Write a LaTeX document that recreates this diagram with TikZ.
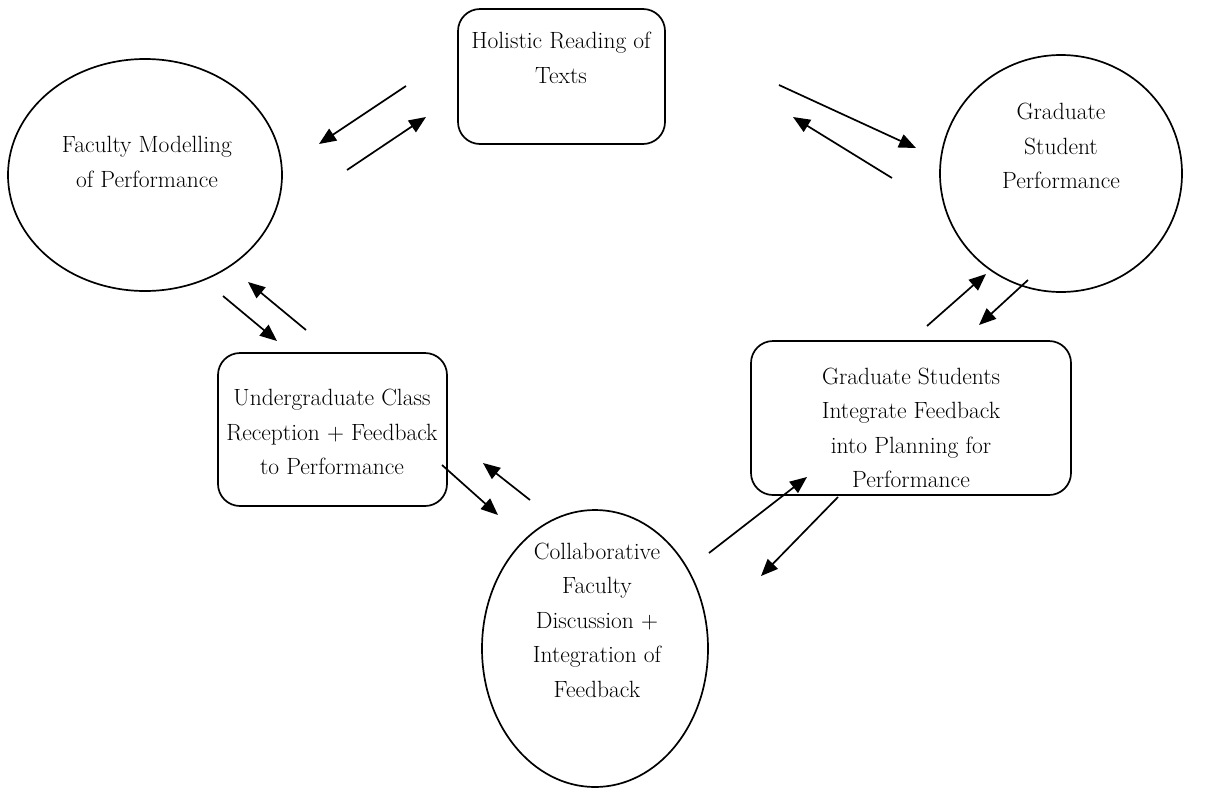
\documentclass[tikz,border=0pt]{standalone}
\usetikzlibrary{arrows.meta,shapes.geometric}
\begin{document}
\begin{tikzpicture}[x=1pt,y=-1pt,
  shp/.style={draw=black,line width=1.7pt,inner sep=0pt},
  rbox/.style={shp,rectangle,rounded corners=22pt},
  ell/.style={shp,ellipse},
  lbl/.style={align=center,font=\fontsize{23.5}{34.5}\selectfont},
  arr/.style={line width=1.7pt,-{Triangle[length=17pt,width=14pt]}}]
\useasboundingbox (0,0) rectangle (1211,793);
% shapes
\node[rbox,minimum width=207pt,minimum height=135pt] (hol) at (561.5,76.5) {};
\node[ell,minimum width=274pt,minimum height=232pt] (fac) at (145,175) {};
\node[ell,minimum width=242pt,minimum height=237pt] (gsp) at (1061,173.5) {};
\node[rbox,minimum width=229pt,minimum height=153pt] (ucr) at (332.5,429.5) {};
\node[rbox,minimum width=320pt,minimum height=154pt] (gsi) at (911,418) {};
\node[ell,minimum width=226pt,minimum height=277pt] (cfd) at (595,648.5) {};
% texts
\node[lbl] (tHol) at (561,58) {Holistic Reading of\\Texts};
\node[lbl] (tFac) at (147,162) {Faculty Modelling\\of Performance};
\node[lbl] (tGsp) at (1061,146) {Graduate\\Student\\Performance};
\node[lbl] (tUcr) at (332,432) {Undergraduate Class\\Reception + Feedback\\to Performance};
\node[lbl] (tGsi) at (911,428) {Graduate Students\\Integrate Feedback\\into Planning for\\Performance};
\node[lbl] (tCfd) at (597,620) {Collaborative\\Faculty\\Discussion +\\Integration of\\Feedback};
% arrow end points
\coordinate (a1s) at (406,86);  \coordinate (a1e) at (319,144);
\coordinate (a2s) at (347,170); \coordinate (a2e) at (426,117);
\coordinate (a3s) at (779,85);  \coordinate (a3e) at (916,148);
\coordinate (a4s) at (892,178); \coordinate (a4e) at (793,117);
\coordinate (a5s) at (306,330); \coordinate (a5e) at (248,282);
\coordinate (a6s) at (223,296); \coordinate (a6e) at (277,341);
\coordinate (a7s) at (442,465); \coordinate (a7e) at (498,515);
\coordinate (a8s) at (530,500); \coordinate (a8e) at (483,463);
\coordinate (a9s) at (709,553); \coordinate (a9e) at (807,477);
\coordinate (a10s) at (838,497); \coordinate (a10e) at (761,576);
\coordinate (a11s) at (927,326); \coordinate (a11e) at (986,274);
\coordinate (a12s) at (1028,280); \coordinate (a12e) at (979,325);
\foreach \i in {1,...,12} {\draw[arr] (a\i s) -- (a\i e);}
\end{tikzpicture}
\end{document}
